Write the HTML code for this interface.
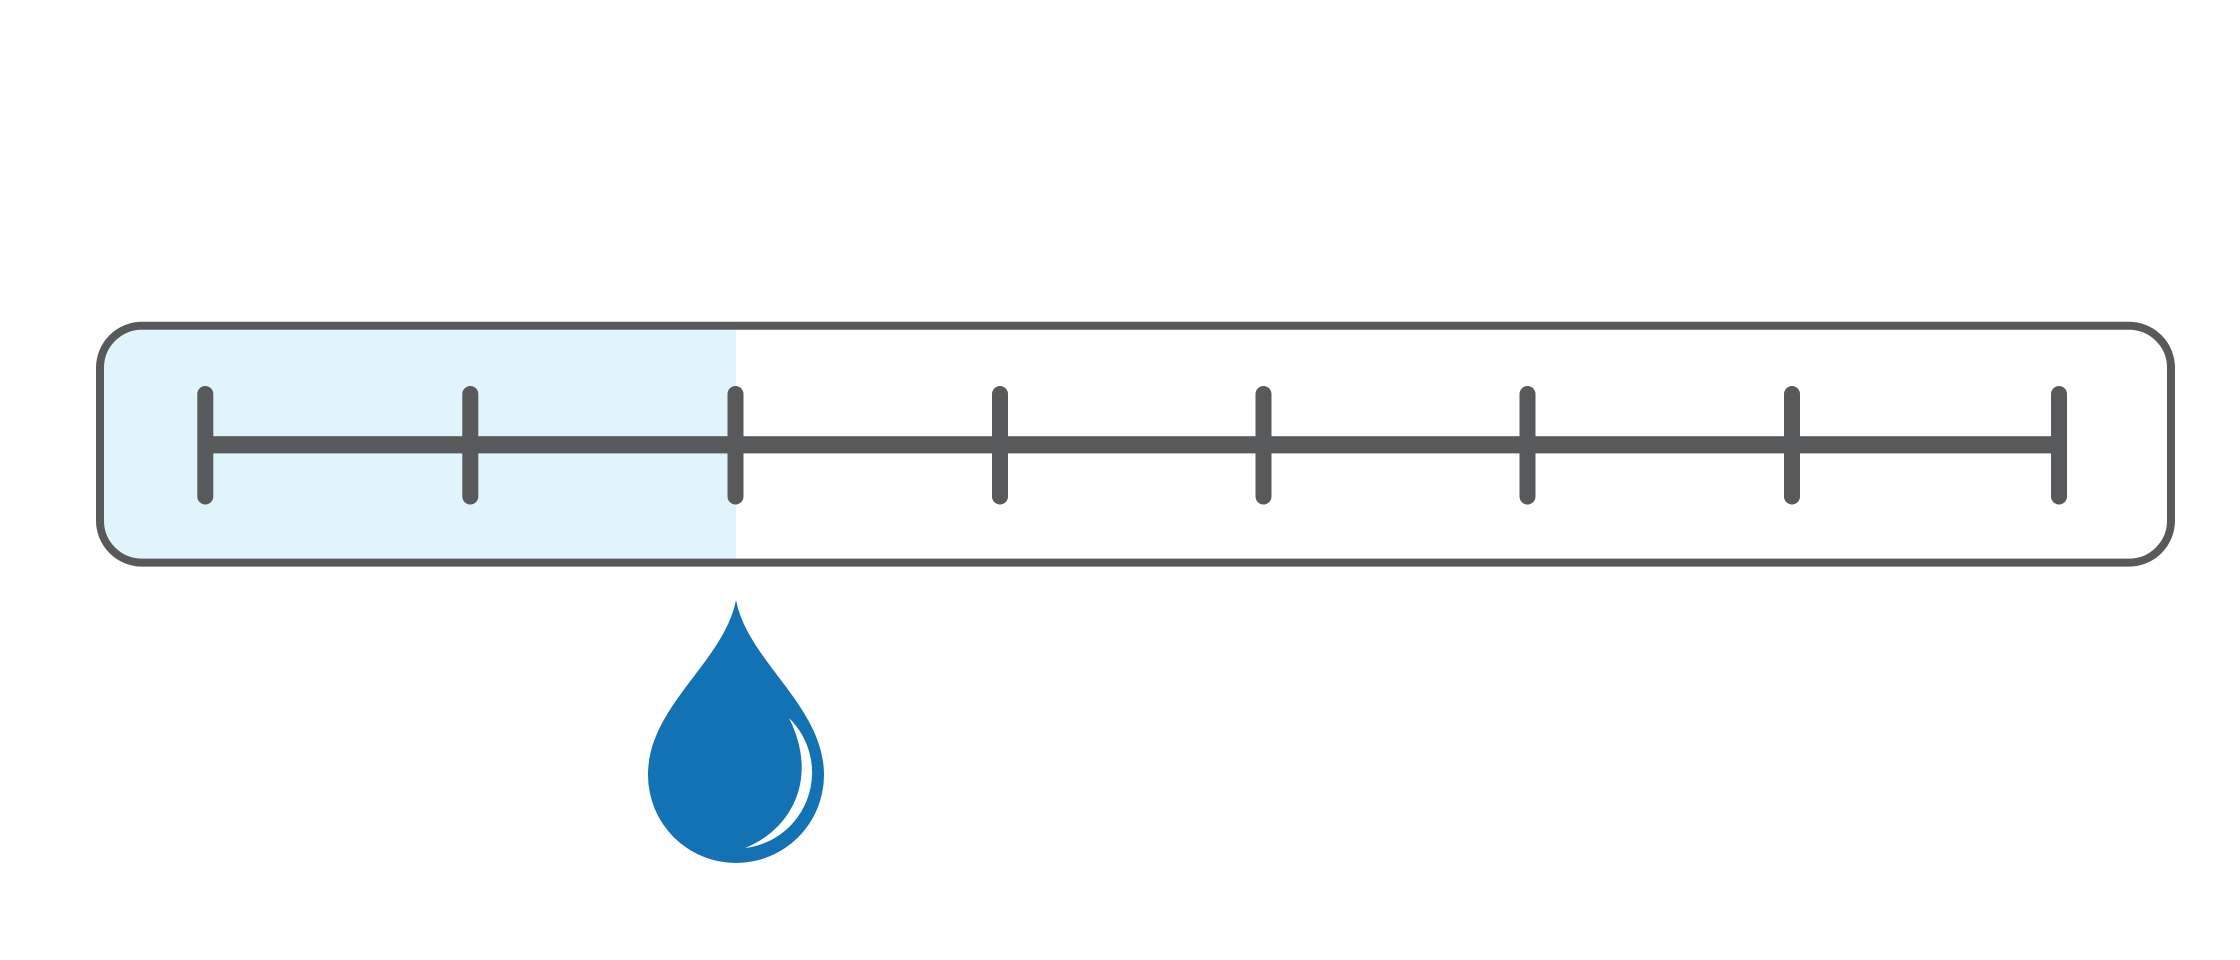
<!DOCTYPE html>
<html>
<head>
<meta charset="utf-8">
<style>
  html, body { margin: 0; padding: 0; background: #ffffff; }
  body { width: 2240px; height: 960px; overflow: hidden; }
  svg { display: block; }
</style>
</head>
<body>
<svg width="2240" height="960" viewBox="0 0 2240 960" xmlns="http://www.w3.org/2000/svg">
  <defs>
    <clipPath id="inner">
      <rect x="104" y="330" width="2063" height="228.5" rx="38" ry="38"/>
    </clipPath>
  </defs>
  <!-- light blue fill -->
  <rect x="100" y="326" width="636" height="236" fill="#e0f4fb" clip-path="url(#inner)"/>
  <!-- outer rounded rect -->
  <rect x="100" y="325.8" width="2071" height="236.8" rx="42" ry="42" fill="none" stroke="#58595b" stroke-width="8"/>
  <!-- horizontal bar -->
  <rect x="197.5" y="436.2" width="1869" height="17.2" fill="#58595b"/>
  <!-- ticks -->
  <g stroke="#58595b" stroke-width="16" stroke-linecap="round">
    <line x1="205.3" y1="394" x2="205.3" y2="496.5"/>
    <line x1="470.3" y1="394" x2="470.3" y2="496.5"/>
    <line x1="735.5" y1="394" x2="735.5" y2="496.5"/>
    <line x1="1000" y1="394" x2="1000" y2="496.5"/>
    <line x1="1263.5" y1="394" x2="1263.5" y2="496.5"/>
    <line x1="1527.5" y1="394" x2="1527.5" y2="496.5"/>
    <line x1="1792" y1="394" x2="1792" y2="496.5"/>
    <line x1="2059" y1="394" x2="2059" y2="496.5"/>
  </g>
  <!-- water drop -->
  <path d="M 736 600 C 724 662, 648 706, 648 775 A 88 88 0 0 0 824 775 C 824 706, 748 662, 736 600 Z" fill="#1372b4"/>
  <!-- highlight -->
  <path d="M 789 718 A 76 76 0 0 1 745 848 C 790 830, 820 780, 789 718 Z" fill="#ffffff"/>
</svg>
</body>
</html>
